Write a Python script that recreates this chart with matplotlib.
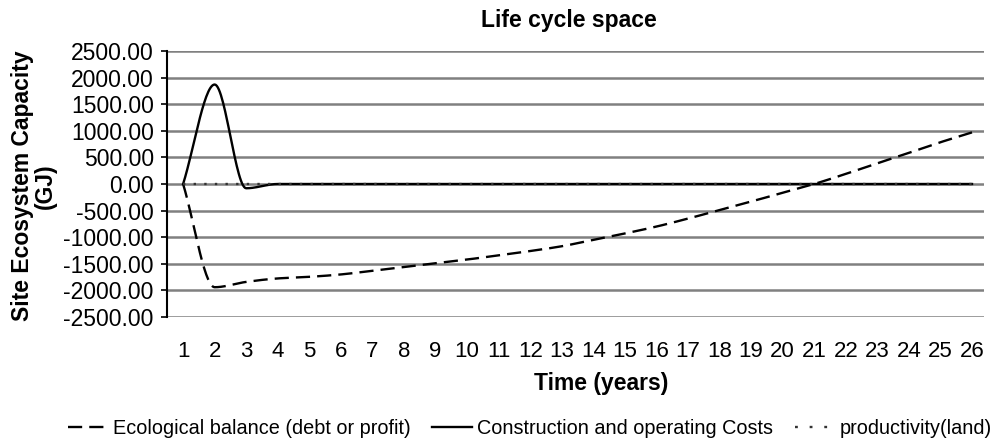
import numpy as np
import matplotlib
matplotlib.use("Agg")
import matplotlib.pyplot as plt
from matplotlib.lines import Line2D

plt.rcParams['font.family'] = ['Liberation Sans', 'DejaVu Sans']

# data
years = list(range(1, 27))
ecological = [0, -1940, -1840, -1775, -1745, -1700, -1630, -1560, -1490, -1420,
              -1340, -1260, -1170, -1050, -930, -800, -650, -490, -330, -165,
              0, 190, 390, 585, 785, 970]
construction = [0, 1870, -80, 0, 0, 0, 0, 0, 0, 0, 0, 0, 0, 0, 0, 0, 0, 0, 0, 0,
                0, 0, 0, 0, 0, 0]
productivity = [0] * 26
yticks = [2500, 2000, 1500, 1000, 500, 0, -500, -1000, -1500, -2000, -2500]


def smooth(x, y, n=30):
    # monotone cubic (Fritsch-Carlson) to mimic the smoothed excel line
    x = np.asarray(x, float)
    y = np.asarray(y, float)
    h = np.diff(x)
    d = np.diff(y) / h
    m = np.zeros_like(y)
    m[0], m[-1] = d[0], d[-1]
    for i in range(1, len(y) - 1):
        if d[i - 1] * d[i] > 0:
            w1 = 2 * h[i] + h[i - 1]
            w2 = h[i] + 2 * h[i - 1]
            m[i] = (w1 + w2) / (w1 / d[i - 1] + w2 / d[i])
    xs, ys = [], []
    for i in range(len(x) - 1):
        t = np.linspace(0, 1, n, endpoint=False)
        h00 = 2 * t**3 - 3 * t**2 + 1
        h10 = t**3 - 2 * t**2 + t
        h01 = -2 * t**3 + 3 * t**2
        h11 = t**3 - t**2
        xs.append(x[i] + t * h[i])
        ys.append(h00 * y[i] + h10 * h[i] * m[i] + h01 * y[i + 1] + h11 * h[i] * m[i + 1])
    xs.append([x[-1]])
    ys.append([y[-1]])
    return np.concatenate(xs), np.concatenate(ys)


fig = plt.figure(figsize=(9.95, 4.4), dpi=100)
ax = fig.add_axes([167 / 995, 1 - 317 / 440, (984 - 167) / 995, (317 - 51) / 440])

lw = 1.7
for v in yticks:
    ax.axhline(v, color='#808080', lw=1.8, zorder=1)

ex, ey = smooth(years, ecological)
ax.plot(ex, ey, color='black', lw=lw, dashes=(6, 3), zorder=3)
cx, cy = smooth(years, construction)
ax.plot(cx, cy, color='black', lw=lw, zorder=3)
ax.plot(years, productivity, color='#333333', lw=lw, dashes=(1, 3.5), zorder=4)

ax.set_xlim(0.49, 26.38)
ax.set_ylim(-2500, 2500)
ax.set_yticks(yticks)
ax.set_yticklabels(['%.2f' % v for v in yticks], fontsize=16.5)
ax.set_xticks(years)
ax.set_xticklabels([str(y) for y in years], fontsize=16)
ax.tick_params(axis='x', length=0, pad=17)
ax.tick_params(axis='y', length=4.5, width=1.2, pad=5, direction='out')
for s in ['top', 'right', 'bottom']:
    ax.spines[s].set_visible(False)
ax.spines['left'].set_linewidth(1.5)

fig.text(569 / 995, 1 - 21 / 440, 'Life cycle space', ha='center', va='center',
         fontsize=16.5, fontweight='bold')
fig.text(601 / 995, 1 - 383 / 440, 'Time (years)', ha='center', va='center',
         fontsize=16.5, fontweight='bold')
fig.text(34 / 995, 1 - 186 / 440, 'Site Ecosystem Capacity\n(GJ)', ha='center',
         va='center', rotation=90, fontsize=16.5, fontweight='bold', linespacing=0.95)

handles = [
    Line2D([], [], color='black', lw=lw, dashes=(6, 3)),
    Line2D([], [], color='black', lw=lw),
    Line2D([], [], color='#333333', lw=lw, dashes=(1.2, 5)),
]
labels = ['Ecological balance (debt or profit)', 'Construction and operating Costs',
          'productivity(land)']
fig.legend(handles, labels, loc='center', bbox_to_anchor=(530 / 995, 1 - 428 / 440),
           ncol=3, frameon=False, fontsize=14.3, handlelength=2.0, handletextpad=0.25,
           columnspacing=1.1, borderaxespad=0)

fig.savefig('out.png', dpi=100)
